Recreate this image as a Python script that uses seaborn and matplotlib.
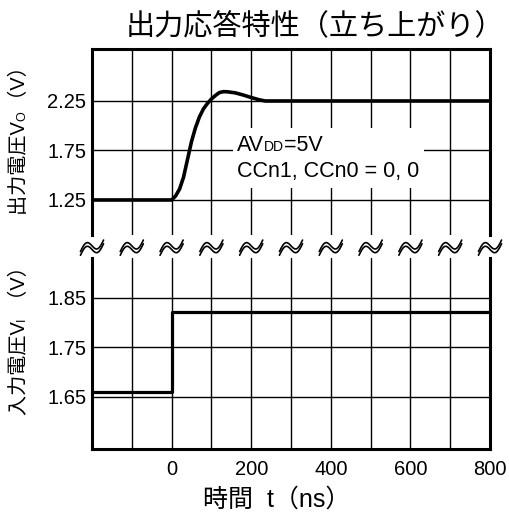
import numpy as np
import pandas as pd
import matplotlib
matplotlib.use("Agg")
import matplotlib.pyplot as plt
import seaborn as sns

# Output response (rising edge)
out_t = [-200, 0, 10, 20, 30, 40, 50, 60, 70, 80, 90, 100, 110, 120, 130,
         140, 160, 180, 200, 220, 235, 800]
out_v = [1.25, 1.25, 1.29, 1.36, 1.48, 1.66, 1.84, 1.98, 2.09, 2.17, 2.225,
         2.27, 2.305, 2.335, 2.344, 2.343, 2.332, 2.31, 2.285, 2.262, 2.25, 2.25]

# Input step
in_t = [-200, 0, 0, 800]
in_v = [1.66, 1.66, 1.822, 1.822]

x_ticks = [0, 200, 400, 600, 800]
x_grid = list(range(-200, 801, 100))
out_yticks = [1.25, 1.75, 2.25]
in_yticks = [1.65, 1.75, 1.85]

sns.set_theme(style="white")
plt.rcParams["font.family"] = ["Liberation Sans", "Noto Sans CJK JP"]
plt.rcParams["axes.unicode_minus"] = False
for key in ("text.color", "axes.labelcolor", "xtick.color", "ytick.color",
            "axes.edgecolor"):
    plt.rcParams[key] = "black"

W, H = 509, 515
fig = plt.figure(figsize=(W / 100, H / 100), dpi=100)


def fx(px):
    return px / W


def fy(py):
    return 1 - py / H


left, right = fx(92), fx(490)
ax_top = fig.add_axes([left, fy(235), right - left, fy(49) - fy(235)])
ax_mid = fig.add_axes([left, fy(258), right - left, fy(235) - fy(258)])
ax_bot = fig.add_axes([left, fy(449), right - left, fy(258) - fy(449)])

spine_lw = 2.2
grid_lw = 1.0


def style_axes(ax, yticks, ylim, spines):
    ax.set_xlim(-200, 800)
    ax.set_ylim(*ylim)
    ax.set_xticks(x_grid)
    ax.set_yticks(yticks)
    ax.set_yticklabels([f"{v:.2f}" for v in yticks])
    ax.grid(True, color="black", linewidth=grid_lw)
    ax.set_axisbelow(True)
    for name, sp in ax.spines.items():
        sp.set_visible(name in spines)
        sp.set_color("black")
        sp.set_linewidth(spine_lw)
    ax.tick_params(axis="both", length=0, labelsize=14.5, colors="black")
    ax.tick_params(axis="y", pad=4)
    ax.tick_params(axis="x", pad=8)
    ax.set_xlabel("")
    ax.set_ylabel("")


# Upper panel: output voltage
df_out = pd.DataFrame({"t": out_t, "v": out_v})
sns.lineplot(data=df_out, x="t", y="v", ax=ax_top, color="black",
             linewidth=2.6, estimator=None, sort=False, zorder=5)
style_axes(ax_top, out_yticks, (0.896, 2.775), ["top", "left", "right"])
ax_top.tick_params(axis="x", labelbottom=False)

# Condition box over the grid
ax_top.add_patch(plt.Rectangle((154, 1.371), 480, 0.606, facecolor="white",
                               edgecolor="none", zorder=3))
t_av = ax_top.text(164, 1.745, "AV", fontsize=15.5, va="baseline", ha="left",
                   zorder=6)
t_dd = ax_top.annotate("DD", xy=(1, 1.745), xycoords=(t_av, "data"),
                       fontsize=10, va="baseline", ha="left", zorder=6)
ax_top.annotate("=5V", xy=(1, 1.745), xycoords=(t_dd, "data"),
                fontsize=15.5, va="baseline", ha="left", zorder=6)
ax_top.text(164, 1.482, "CCn1, CCn0 = 0, 0", fontsize=15.5, va="baseline",
            ha="left", zorder=6)

# Lower panel: input voltage
df_in = pd.DataFrame({"t": in_t, "v": in_v})
sns.lineplot(data=df_in, x="t", y="v", ax=ax_bot, color="black",
             linewidth=2.3, estimator=None, sort=False, zorder=5)
style_axes(ax_bot, in_yticks, (1.544, 1.931), ["bottom", "left", "right"])
ax_bot.set_xticklabels([str(v) if v in x_ticks else "" for v in x_grid])

# Axis break marks between the panels
ax_mid.set_xlim(-200, 800)
ax_mid.set_ylim(0, 1)
ax_mid.axis("off")
u = np.linspace(-1, 1, 60)
wave = 0.5 * u - 0.5 * np.sin(np.pi * u)
for xg in x_grid:
    for dy in (0.08, -0.08):
        ax_mid.plot(xg + 29 * u, 0.45 + dy + 0.5 * wave, color="black",
                    linewidth=1.2, clip_on=False, solid_capstyle="round")

# Titles and axis labels
fig.text(fx(126), fy(27), "出力応答特性（立ち上がり）", fontsize=21,
         ha="left", va="center")
fig.text(fx(203), fy(500), "時間  t（ns）", fontsize=18, ha="left",
         va="center")

renderer = fig.canvas.get_renderer()


def text_width(s, size):
    t = fig.text(0, 0, s, fontsize=size)
    w = t.get_window_extent(renderer).width
    t.remove()
    return w


def rotated_label(x_px, y_px, head, sub, tail, size=14.5, sub_size=9):
    # one rotated string with room left for the small subscript letter
    gap = "  "
    fig.text(fx(x_px), fy(y_px), head + gap + tail, rotation=90,
             rotation_mode="anchor", fontsize=size, ha="left",
             va="baseline")
    y_sub = y_px - text_width(head, size)
    fig.text(fx(x_px), fy(y_sub), sub, rotation=90, rotation_mode="anchor",
             fontsize=sub_size, ha="left", va="baseline")


rotated_label(25, 215, "出力電圧V", "O", "（V）")
rotated_label(25, 415, "入力電圧V", "I", "（V）")

fig.savefig("out.png", dpi=100)
